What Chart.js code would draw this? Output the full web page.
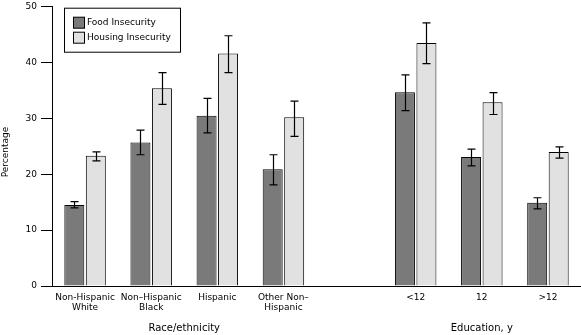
<!DOCTYPE html>
<html>
<head>
<meta charset="utf-8">
<script src="https://cdn.jsdelivr.net/npm/chart.js@4"></script>
<style>
  html, body { margin: 0; padding: 0; background: #fff; }
  #wrap { width: 581px; height: 335px; }
</style>
</head>
<body>
<div id="wrap"><canvas id="myChart" width="581" height="335"></canvas></div>
<script>
"use strict";

// categories, the empty one is the gap between the two groups
const categories = [['Non-Hispanic', 'White'], ['Non\u2013Hispanic', 'Black'], 'Hispanic', ['Other Non\u2013', 'Hispanic'], '', '<12', '12', '>12'];
const groups = [
  { label: 'Race/ethnicity', from: 0, to: 3 },
  { label: 'Education, y', from: 5, to: 7 }
];
const seriesNames = ['Food Insecurity', 'Housing Insecurity'];

const food = [14.5, 25.7, 30.5, 20.9, null, 34.7, 23.1, 14.9];
const foodLow = [14.0, 23.5, 27.4, 18.1, null, 31.4, 21.5, 13.8];
const foodHigh = [15.1, 27.9, 33.6, 23.5, null, 37.8, 24.5, 15.8];

const housing = [23.3, 35.4, 41.6, 30.2, null, 43.5, 32.9, 24.0];
const housingLow = [22.4, 32.5, 38.2, 26.8, null, 39.8, 30.7, 22.9];
const housingHigh = [24.0, 38.2, 44.8, 33.1, null, 47.1, 34.6, 24.9];

const yTicks = [0, 10, 20, 30, 40, 50];

const FONT = '"DejaVu Sans", Verdana, sans-serif';
const colors = ['#7a7a7a', '#e1e1e1'];

Chart.defaults.font.family = FONT;
Chart.defaults.font.size = 9;
Chart.defaults.color = '#000';

// error bars from the low/high arrays
const errorBars = {
  id: 'errorBars',
  afterDatasetsDraw(chart) {
    const ctx = chart.ctx;
    const y = chart.scales.y;
    ctx.save();
    ctx.strokeStyle = '#000';
    ctx.lineWidth = 1.2;
    chart.data.datasets.forEach((ds, di) => {
      const meta = chart.getDatasetMeta(di);
      meta.data.forEach((bar, i) => {
        if (ds.low[i] == null) return;
        const x = Math.round(bar.x) + 0.5;
        const y1 = y.getPixelForValue(ds.low[i]);
        const y2 = y.getPixelForValue(ds.high[i]);
        ctx.beginPath();
        ctx.moveTo(x, y1); ctx.lineTo(x, y2);
        ctx.moveTo(x - 4, y1); ctx.lineTo(x + 4, y1);
        ctx.moveTo(x - 4, y2); ctx.lineTo(x + 4, y2);
        ctx.stroke();
      });
    });
    ctx.restore();
  }
};

// boxed legend in the top left of the plot, group labels and y title
const boxLegend = {
  id: 'boxLegend',
  afterDraw(chart) {
    const ctx = chart.ctx;
    const a = chart.chartArea;
    ctx.save();
    const bx = a.left + 12, by = a.top + 1;
    ctx.strokeStyle = '#000';
    ctx.lineWidth = 1;
    ctx.strokeRect(bx + 0.5, by + 0.5, 116, 44);
    ctx.font = '9px ' + FONT;
    ctx.textBaseline = 'middle';
    chart.data.datasets.forEach((ds, i) => {
      const cy = by + 15 + i * 15;
      ctx.fillStyle = ds.backgroundColor;
      ctx.fillRect(bx + 9.5, cy - 5.5, 11, 11);
      ctx.strokeRect(bx + 9.5, cy - 5.5, 11, 11);
      ctx.fillStyle = '#000';
      ctx.textAlign = 'left';
      ctx.fillText(ds.label, bx + 23, cy);
    });
    ctx.translate(6, 152);
    ctx.rotate(-Math.PI / 2);
    ctx.textAlign = 'center';
    ctx.fillText('Percentage', 0, 0);
    ctx.setTransform(1, 0, 0, 1, 0, 0);
    const x = chart.scales.x;
    ctx.font = '10px ' + FONT;
    groups.forEach(g => {
      const cx = (x.getPixelForValue(g.from) + x.getPixelForValue(g.to)) / 2;
      ctx.fillText(g.label, cx, 328);
    });
    ctx.restore();
  }
};

new Chart(document.getElementById('myChart'), {
  type: 'bar',
  data: {
    labels: categories,
    datasets: [
      { label: seriesNames[0], data: food, low: foodLow, high: foodHigh, backgroundColor: colors[0] },
      { label: seriesNames[1], data: housing, low: housingLow, high: housingHigh, backgroundColor: colors[1] }
    ]
  },
  options: {
    responsive: false,
    animation: false,
    layout: { padding: { top: 0, right: 0, bottom: 0, left: 0 } },
    datasets: {
      bar: {
        borderColor: '#000',
        borderWidth: 1,
        barPercentage: 0.93,
        categoryPercentage: 0.65
      }
    },
    plugins: {
      legend: { display: false },
      tooltip: { enabled: false }
    },
    scales: {
      x: {
        grid: { display: false },
        border: { display: true, color: '#000', width: 1 },
        ticks: { autoSkip: false, maxRotation: 0, padding: -2, font: { size: 9, lineHeight: 1.15 } },
        afterFit(scale) { scale.height = 49; }
      },
      y: {
        min: 0,
        max: 50,
        afterBuildTicks(scale) { scale.ticks = yTicks.map(v => ({ value: v })); },
        grid: { drawOnChartArea: false, drawTicks: true, tickLength: 11, color: '#000' },
        border: { display: true, color: '#000', width: 1 },
        ticks: { padding: 4, font: { size: 9, lineHeight: 0.6 } },
        afterFit(scale) { scale.width = 52; }
      }
    }
  },
  plugins: [errorBars, boxLegend]
});
</script>
</body>
</html>
